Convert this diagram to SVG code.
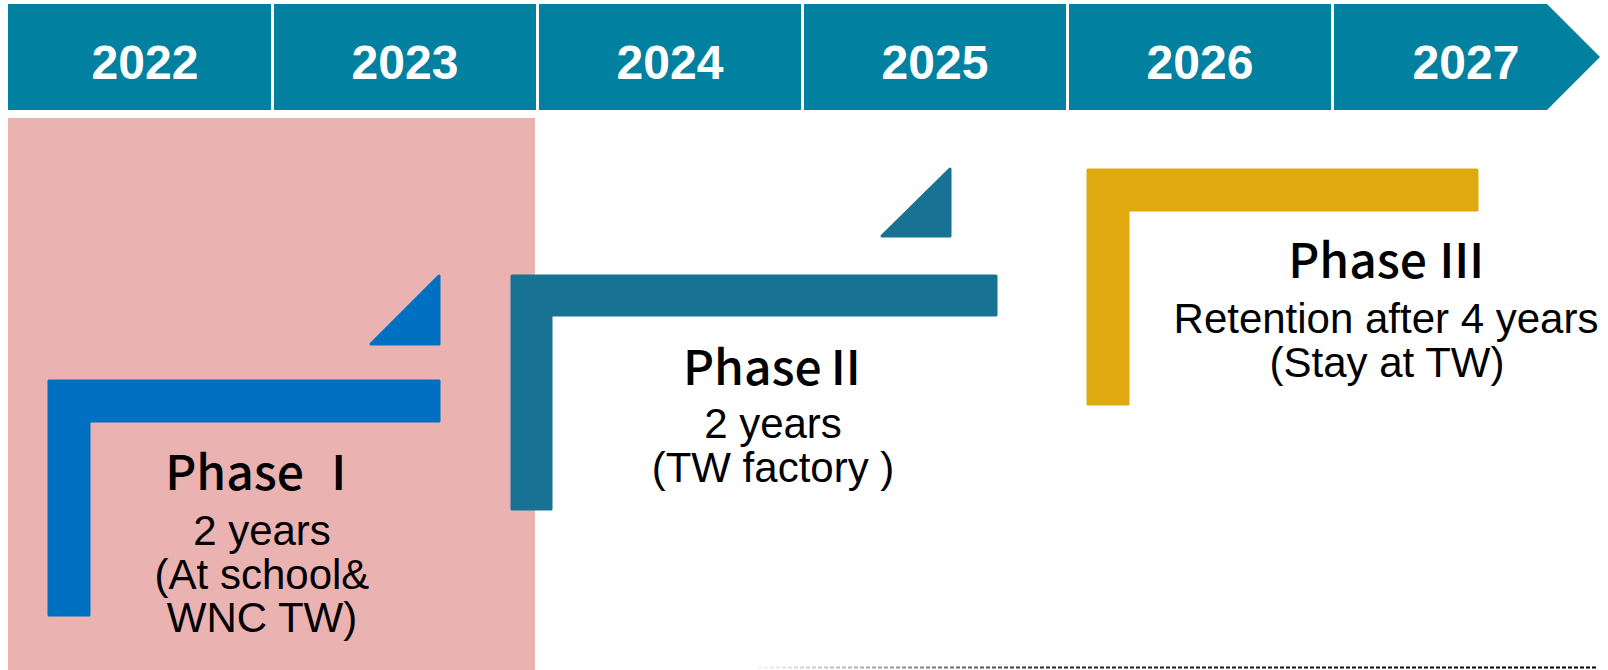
<svg xmlns="http://www.w3.org/2000/svg" width="1608" height="670" viewBox="0 0 1608 670">
<defs>
<style>
.cell{fill:#0180A0}
.year{font-family:"Liberation Sans",Arial,sans-serif;font-weight:bold;font-size:48px;fill:#fff;text-anchor:middle}
.title{font-family:"Noto Sans CJK TC","Noto Sans CJK SC",sans-serif;font-weight:500;font-size:48px;fill:#000}
.sub{font-family:"Liberation Sans",Arial,sans-serif;font-size:42px;fill:#000;text-anchor:middle}
.p1{fill:#0070C0;stroke:#0070C0}
.p2{fill:#187293;stroke:#187293}
.p3{fill:#E0A90F;stroke:#E0A90F}
.shape{stroke-width:3;stroke-linejoin:round}
</style>
<linearGradient id="fade" x1="758" y1="0" x2="1600" y2="0" gradientUnits="userSpaceOnUse">
<stop offset="0" stop-color="#000" stop-opacity="0.04"/>
<stop offset="0.35" stop-color="#000" stop-opacity="0.85"/>
<stop offset="1" stop-color="#000" stop-opacity="1"/>
</linearGradient>
</defs>
<rect width="1608" height="670" fill="#fff"/>
<rect id="phase1-bg" x="8" y="118" width="527" height="552" fill="#EBB2B2"/>
<g id="timeline">
<g id="y2022"><rect class="cell" x="8" y="4" width="263" height="106"/><text class="year" x="145" y="79">2022</text></g>
<g id="y2023"><rect class="cell" x="274" y="4" width="262" height="106"/><text class="year" x="405" y="79">2023</text></g>
<g id="y2024"><rect class="cell" x="539" y="4" width="262" height="106"/><text class="year" x="670" y="79">2024</text></g>
<g id="y2025"><rect class="cell" x="804" y="4" width="262" height="106"/><text class="year" x="935" y="79">2025</text></g>
<g id="y2026"><rect class="cell" x="1069" y="4" width="262" height="106"/><text class="year" x="1200" y="79">2026</text></g>
<g id="y2027"><path class="cell" d="M1334 4 H1547 L1600 57 L1547 110 H1334 Z"/><text class="year" x="1466" y="79">2027</text></g>
</g>
<g id="phase1">
<path class="p1 shape" d="M49 381 H439 V421 H89 V615 H49 Z"/>
<path class="p1 shape" d="M371 344 L439 276 V344 Z"/>
<text class="title" x="264" y="490" text-anchor="middle">Phase Ⅰ</text>
<text class="sub" x="262" y="545">2 years</text>
<text class="sub" x="262" y="589">(At school&amp;</text>
<text class="sub" x="262" y="632">WNC TW)</text>
</g>
<g id="phase2">
<path class="p2 shape" d="M512 276 H996 V315 H551 V509 H512 Z"/>
<path class="p2 shape" d="M882 236 L950 169 V236 Z"/>
<text class="title" x="683" y="385">PhaseⅡ</text>
<text class="sub" x="773" y="438">2 years</text>
<text class="sub" x="773" y="482">(TW factory )</text>
</g>
<g id="phase3">
<path class="p3 shape" d="M1088 170 H1477 V210 H1128 V404 H1088 Z"/>
<text class="title" x="1387" y="278" text-anchor="middle">Phase Ⅲ</text>
<text class="sub" x="1386" y="333">Retention after 4 years</text>
<text class="sub" x="1387" y="377">(Stay at TW)</text>
</g>
<g id="connectors">
<line x1="758" y1="667.5" x2="1598" y2="667.5" stroke="url(#fade)" stroke-width="2" stroke-dasharray="4 2"/>
</g>
</svg>
